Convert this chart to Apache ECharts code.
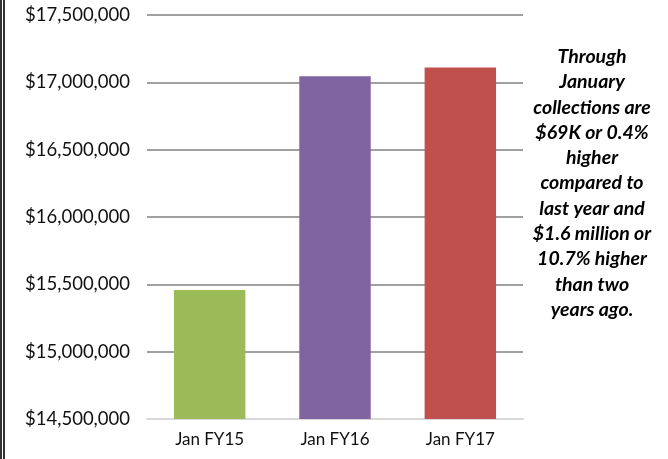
<!DOCTYPE html>
<html>
<head>
<meta charset="utf-8">
<script src="https://cdn.jsdelivr.net/npm/echarts@6/dist/echarts.min.js"></script>
<style>
  html, body { margin: 0; padding: 0; background: #fff; }
  #main { width: 668px; height: 459px; box-sizing: border-box; border-left: 5px double #333; }
</style>
</head>
<body>
<div id="main"></div>
<script>
  // data
  var categories = ['Jan FY15', 'Jan FY16', 'Jan FY17'];
  var values = [15458000, 17045000, 17111000];
  var barColors = ['#9BBB59', '#8064A2', '#C0504D'];
  var note = ['Through', 'January', 'collections are', '$69K or 0.4%', 'higher',
    'compared to', 'last year and', '$1.6 million or', '10.7% higher', 'than two', 'years ago.'];

  var chart = echarts.init(document.getElementById('main'));

  var fmt = function (v) {
    return '$' + v.toString().replace(/\B(?=(\d{3})+(?!\d))/g, ',');
  };

  chart.setOption({
    animation: false,
    grid: { left: 142, right: 145, top: 15, bottom: 40, containLabel: false },
    xAxis: {
      type: 'category',
      data: categories,
      axisTick: { show: false },
      axisLine: { lineStyle: { color: '#d9d9d9', width: 2 } },
      axisLabel: { color: '#111', fontSize: 17, fontFamily: 'Lato', margin: 12 }
    },
    yAxis: {
      type: 'value',
      min: 14500000,
      max: 17500000,
      interval: 500000,
      axisLine: { show: false },
      axisTick: { show: false },
      splitLine: { lineStyle: { color: '#a0a0a0', width: 2 } },
      axisLabel: { color: '#111', fontSize: 18.5, fontFamily: 'Lato', margin: 17, formatter: fmt }
    },
    series: [{
      type: 'bar',
      barWidth: '57%',
      data: values.map(function (v, i) {
        return { value: v, itemStyle: { color: barColors[i] } };
      })
    }],
    graphic: [{
      type: 'text',
      x: 587,
      y: 44,
      style: {
        text: note.join('\n'),
        align: 'center',
        verticalAlign: 'top',
        fontFamily: 'Lato',
        fontSize: 19.5,
        fontWeight: 'bold',
        fontStyle: 'italic',
        lineHeight: 25.3,
        fill: '#000'
      }
    }]
  });
</script>
</body>
</html>
